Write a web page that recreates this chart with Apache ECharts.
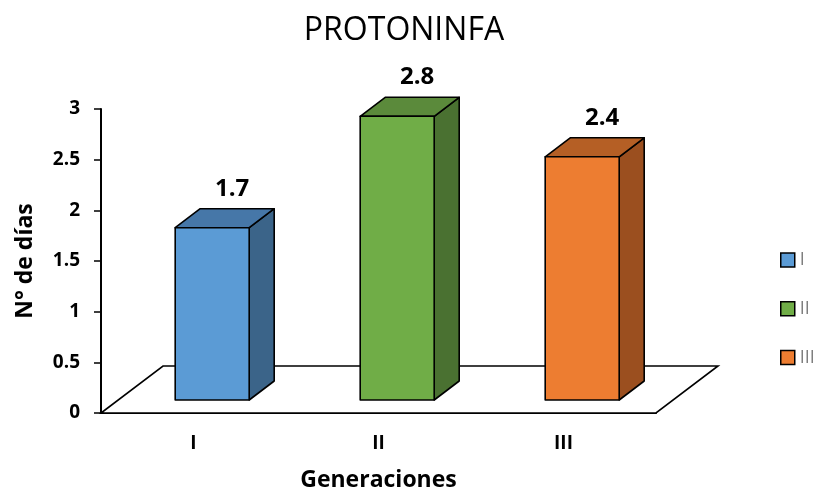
<!DOCTYPE html>
<html>
<head>
<meta charset="utf-8">
<title>PROTONINFA</title>
<script src="https://cdn.jsdelivr.net/npm/echarts@6/dist/echarts.min.js"></script>
<style>
  html, body { margin: 0; padding: 0; background: #ffffff; }
  #chart { width: 813px; height: 492px; }
</style>
</head>
<body>
<div id="chart"></div>
<script>
// Generations and their duration (days) in the protonymph stage
const categories = ['I', 'II', 'III'];
const values = [1.7, 2.8, 2.4];
const yTicks = [0, 0.5, 1, 1.5, 2, 2.5, 3];

// Face colours of each prism: front, side, top
const frontColors = ['#5B9BD5', '#70AD47', '#ED7D31'];
const sideColors = ['#3B6489', '#4A7131', '#9B4F1F'];
const topColors = ['#4677A8', '#5B8A3B', '#B55F25'];

const FONT = '"Open Sans", "Noto Sans", sans-serif';

// Pseudo-3D projection offsets (pixels)
const FLOOR_DX = 62, FLOOR_DY = 47;   // depth of the floor plane
const BAR_SHIFT_X = 18.7, BAR_SHIFT_Y = 13; // bar front face position on the floor
const BAR_DX = 25, BAR_DY = 19;       // depth of each prism
const BAR_RATIO = 0.4;

const chart = echarts.init(document.getElementById('chart'), null, { renderer: 'canvas' });

function renderFloor(params, api) {
  const cs = params.coordSys;
  const yb = cs.y + cs.height;
  return {
    type: 'polygon',
    shape: {
      points: [
        [cs.x, yb],
        [cs.x + cs.width, yb],
        [cs.x + cs.width + FLOOR_DX, yb - FLOOR_DY],
        [cs.x + FLOOR_DX, yb - FLOOR_DY]
      ]
    },
    style: { fill: '#ffffff', stroke: '#000000', lineWidth: 1.6, lineJoin: 'miter' },
    silent: true
  };
}

function makeBarRenderer(idx) {
  return function (params, api) {
    const c = api.value(0);
    const v = api.value(1);
    const base = api.coord([c, 0]);
    const top = api.coord([c, v]);
    const bw = api.size([1, 0])[0] * BAR_RATIO;
    const cx = base[0] + BAR_SHIFT_X;
    const x0 = cx - bw / 2, x1 = cx + bw / 2;
    const yb = base[1] - BAR_SHIFT_Y;
    const yt = top[1] - BAR_SHIFT_Y;
    const edge = { stroke: '#000000', lineWidth: 1.6, lineJoin: 'round' };
    return {
      type: 'group',
      children: [
        {
          type: 'polygon',
          shape: { points: [[x1, yb], [x1 + BAR_DX, yb - BAR_DY], [x1 + BAR_DX, yt - BAR_DY], [x1, yt]] },
          style: Object.assign({ fill: sideColors[idx] }, edge)
        },
        {
          type: 'polygon',
          shape: { points: [[x0, yt], [x1, yt], [x1 + BAR_DX, yt - BAR_DY], [x0 + BAR_DX, yt - BAR_DY]] },
          style: Object.assign({ fill: topColors[idx] }, edge)
        },
        {
          type: 'polygon',
          shape: { points: [[x0, yb], [x1, yb], [x1, yt], [x0, yt]] },
          style: Object.assign({ fill: frontColors[idx] }, edge)
        },
        {
          type: 'text',
          style: {
            x: cx + 20,
            y: yt - BAR_DY - 20,
            text: String(v),
            align: 'center',
            verticalAlign: 'middle',
            fill: '#000000',
            font: 'bold 24px ' + FONT
          }
        }
      ]
    };
  };
}

const barSeries = categories.map(function (name, i) {
  return {
    name: name,
    type: 'custom',
    z: 3,
    itemStyle: { color: frontColors[i], borderColor: '#000000', borderWidth: 1.5 },
    renderItem: makeBarRenderer(i),
    data: [[i, values[i]]]
  };
});

const option = {
  backgroundColor: '#ffffff',
  animation: false,
  title: {
    text: 'PROTONINFA',
    left: 399,
    top: 10,
    textAlign: 'center',
    textStyle: { fontFamily: FONT, fontSize: 32, fontWeight: 'normal', color: '#000000' }
  },
  legend: {
    orient: 'vertical',
    left: 775,
    top: 246,
    itemWidth: 14,
    itemHeight: 14,
    itemGap: 30.7,
    icon: 'rect',
    data: categories,
    itemStyle: { borderColor: '#000000', borderWidth: 1.5 },
    textStyle: { fontFamily: FONT, fontSize: 18, color: '#7F7F7F', lineHeight: 14 }
  },
  grid: { left: 101, right: 157, top: 109, bottom: 79, containLabel: false, outerBoundsMode: 'none' },
  xAxis: {
    type: 'category',
    data: categories,
    name: 'Generaciones',
    nameLocation: 'middle',
    nameGap: 56,
    nameTextStyle: { fontFamily: FONT, fontSize: 23, fontWeight: 'bold', color: '#000000' },
    axisLine: { show: true, lineStyle: { color: '#000000', width: 2 } },
    axisTick: { show: false },
    axisLabel: { margin: 21, fontFamily: FONT, fontSize: 19, fontWeight: 'bold', color: '#000000' },
    splitLine: { show: false }
  },
  yAxis: {
    type: 'value',
    min: yTicks[0],
    max: yTicks[yTicks.length - 1],
    interval: yTicks[1] - yTicks[0],
    name: 'N° de días',
    nameLocation: 'middle',
    nameGap: 64,
    nameTextStyle: { fontFamily: FONT, fontSize: 23, fontWeight: 'bold', color: '#000000' },
    axisLine: { show: true, lineStyle: { color: '#000000', width: 2 } },
    axisTick: { show: true, length: 7, lineStyle: { color: '#000000', width: 1.5 } },
    axisLabel: { margin: 21, fontFamily: FONT, fontSize: 19, fontWeight: 'bold', color: '#000000' },
    splitLine: { show: false }
  },
  series: [
    {
      name: 'floor',
      type: 'custom',
      z: 1,
      silent: true,
      renderItem: renderFloor,
      data: [[0, 0]]
    }
  ].concat(barSeries)
};

chart.setOption(option);
</script>
</body>
</html>
